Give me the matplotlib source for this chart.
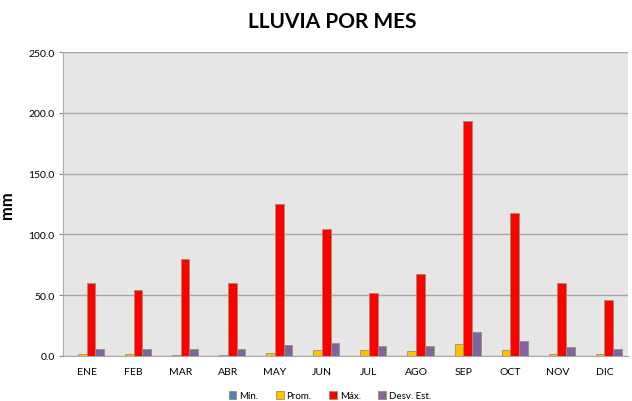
import matplotlib
matplotlib.use("Agg")
import matplotlib.pyplot as plt
import numpy as np

plt.rcParams['font.family'] = ['Lato', 'DejaVu Sans']

months = ["ENE", "FEB", "MAR", "ABR", "MAY", "JUN", "JUL", "AGO", "SEP", "OCT", "NOV", "DIC"]
minimo = [0, 0, 0, 0, 0, 0, 0, 0, 0, 0, 0, 0]
prom = [2.0, 2.0, 1.0, 1.0, 2.8, 5.0, 5.0, 4.4, 9.5, 5.0, 1.6, 1.6]
maximo = [60.0, 54.0, 80.0, 60.0, 125.0, 104.5, 52.0, 67.5, 193.5, 118.0, 60.0, 46.0]
desv = [6.0, 6.0, 5.5, 6.0, 9.3, 11.0, 8.3, 8.3, 20.0, 12.0, 7.0, 5.7]

series = [("Mín.", minimo, "#4F81BD"), ("Prom.", prom, "#FFC000"),
          ("Máx.", maximo, "#FF0000"), ("Desv. Est.", desv, "#8064A2")]

fig = plt.figure(figsize=(6.32, 4.02), dpi=100)
ax = fig.add_axes([0.0997, 0.112, 0.894, 0.756])
ax.set_facecolor("#E6E6E6")

x = np.arange(len(months))
w = 0.185
for i, (name, vals, col) in enumerate(series):
    ax.bar(x + (i - 1.5) * w, vals, w, color=col, edgecolor="#9E8E6A", linewidth=0.6,
           label=name, zorder=3)

ax.set_xlim(-0.5, 11.5)
ax.set_ylim(0, 250)
ax.set_yticks(np.arange(0, 251, 50))
ax.set_yticklabels([f"{v:.1f}" for v in np.arange(0, 251, 50)], fontsize=7.5)
ax.set_xticks(x)
ax.set_xticklabels(months, fontsize=7.5)
ax.tick_params(axis="x", length=0, pad=8)
ax.tick_params(axis="y", length=3, color="#888888", pad=3)
ax.grid(axis="y", color="#A6A6A6", linewidth=1.0, zorder=0)
for s in ["top", "right"]:
    ax.spines[s].set_visible(False)
ax.spines["left"].set_color("#AAAAAA")
ax.spines["bottom"].set_color("#AAAAAA")
ax.set_ylabel("mm", fontsize=12, fontweight="bold")
ax.yaxis.set_label_coords(-0.085, 0.5)

fig.text(0.525, 0.945, "LLUVIA POR MES", ha="center", va="center", fontsize=15, fontweight="bold")
fig.legend(loc="center", bbox_to_anchor=(0.522, 0.013), ncol=4, fontsize=7, frameon=False,
           handlelength=0.8, handleheight=0.8, handletextpad=0.3, columnspacing=1.8)

fig.savefig("out.png", dpi=100)
